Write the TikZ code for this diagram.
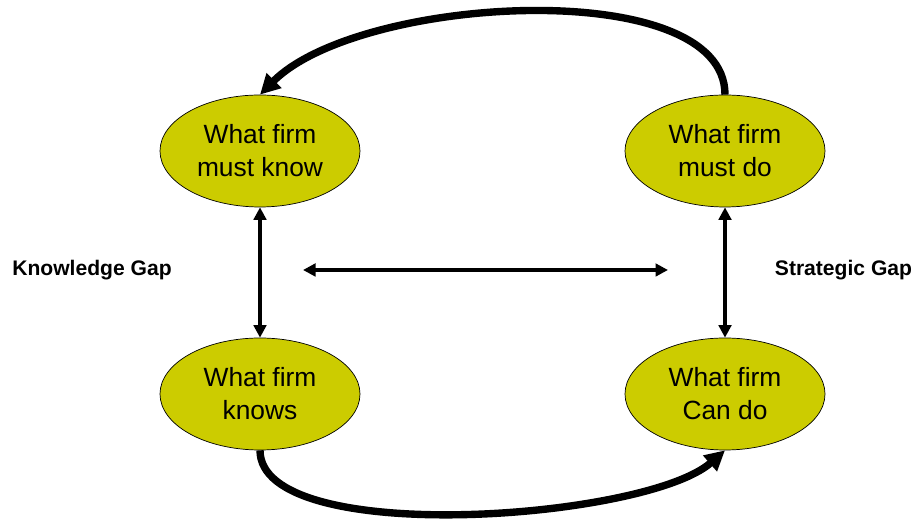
\documentclass[tikz,border=0pt]{standalone}
\usepackage{fontspec}
\setmainfont{Liberation Sans}
\usetikzlibrary{arrows.meta,shapes.geometric}

\definecolor{firmfill}{RGB}{204,204,0}

\begin{document}
\begin{tikzpicture}[
        firm/.style={draw=black, ellipse, fill=firmfill, minimum width=4cm, minimum height=2.24cm,
            inner sep=0pt, align=center, font=\fontsize{15}{18.7}\selectfont},
        gap/.style={font=\bfseries\fontsize{12}{14}\selectfont},
        link/.style={{Triangle[length=0.25cm,width=0.25cm]}-{Triangle[length=0.25cm,width=0.25cm]}, line width=2.2pt},
        loop/.style={-{Triangle[length=0.4cm,width=0.4cm]}, line width=4.2pt}
    ]
        \useasboundingbox (0,0) rectangle (18.3,10.4);
        \node[firm] (mustknow) at (5.2, 7.38) {What firm\\must know};
        \node[firm] (mustdo) at (14.5, 7.38) {What firm\\must do};
        \node[firm] (knows) at (5.2, 2.52) {What firm\\knows};
        \node[firm] (cando) at (14.5, 2.52) {What firm\\Can do};
        \node[gap] (kgap) at (1.84, 5.0) {Knowledge Gap};
        \node[gap] (sgap) at (16.87, 5.0) {Strategic Gap};
        \coordinate (midl) at (6.06, 5.0);
        \coordinate (midr) at (13.36, 5.0);
        \draw[link] (mustknow) -- (knows);
        \draw[link] (mustdo) -- (cando);
        \draw[link] (midl) -- (midr);
        \draw[loop] (mustdo.north) .. controls +(0, 2.4) and +(2.0, 2.0) .. (mustknow.north);
        \draw[loop] (knows.south) .. controls +(0, -1.95) and +(-1.6, -1.4) .. (cando.south);
    \end{tikzpicture}
\end{document}
